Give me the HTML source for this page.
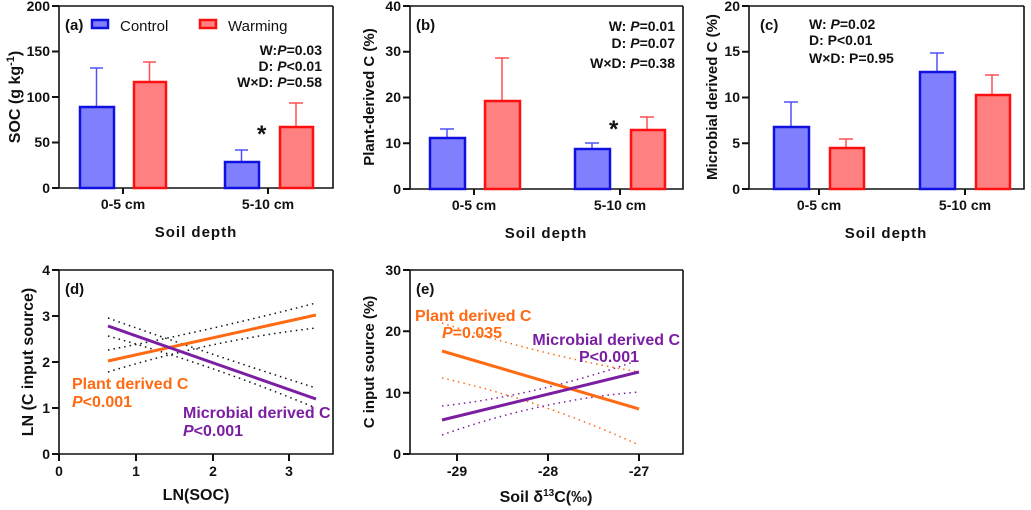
<!DOCTYPE html>
<html><head><meta charset="utf-8"><style>
html,body{margin:0;padding:0;background:#fff}
svg{display:block}
text{font-family:"Liberation Sans",Arial,sans-serif;font-weight:bold;fill:#111}
.t{font-size:14px}
.ti{font-size:15px;letter-spacing:1px}
.yt{font-size:16px}
.an{font-size:14px}
.or{fill:#ff6a13}
.pu{fill:#7b1fa2}
</style></head><body>
<svg width="1031" height="510" viewBox="0 0 1031 510" xmlns="http://www.w3.org/2000/svg">
<g stroke="#111" stroke-width="2" fill="none">
<polyline points="333,6 59,6 59,188 333,188 333,6" stroke-width="1.6"/>
<path d="M52,6H59M52,51.5H59M52,97H59M52,142.5H59M52,188H59M123,188V194M268,188V194"/>
<polyline points="683,6 410,6 410,189 683,189 683,6" stroke-width="1.6"/>
<path d="M403,6H410M403,51.7H410M403,97.5H410M403,143.2H410M403,189H410M474,189V195M620,189V195"/>
<polyline points="1024,6 749,6 749,189 1024,189 1024,6" stroke-width="1.6"/>
<path d="M742,6H749M742,51.7H749M742,97.5H749M742,143.2H749M742,189H749M819,189V195M965,189V195"/>
<polyline points="333,270 59,270 59,454 333,454 333,270" stroke-width="1.6"/>
<path d="M52,270H59M52,316H59M52,362H59M52,408H59M52,454H59M59,454V461M136,454V461M213,454V461M289,454V461"/>
<polyline points="683,270 410,270 410,454 683,454 683,270" stroke-width="1.6"/>
<path d="M403,270H410M403,331.3H410M403,392.7H410M403,454H410M457,454V461M548,454V461M639,454V461"/>
</g>
<g class="t" text-anchor="end">
<text x="50" y="11">200</text><text x="50" y="56">150</text><text x="50" y="102">100</text><text x="50" y="147">50</text><text x="50" y="193">0</text>
<text x="401" y="11">40</text><text x="401" y="56">30</text><text x="401" y="102">20</text><text x="401" y="148">10</text><text x="401" y="194">0</text>
<text x="740" y="11">20</text><text x="740" y="56">15</text><text x="740" y="102">10</text><text x="740" y="148">5</text><text x="740" y="194">0</text>
<text x="50" y="275">4</text><text x="50" y="321">3</text><text x="50" y="367">2</text><text x="50" y="413">1</text><text x="50" y="459">0</text>
<text x="401" y="275">30</text><text x="401" y="336">20</text><text x="401" y="398">10</text><text x="401" y="459">0</text>
</g>
<g class="t" text-anchor="middle">
<text x="123" y="209">0-5 cm</text><text x="268" y="209">5-10 cm</text>
<text x="474" y="210">0-5 cm</text><text x="620" y="210">5-10 cm</text>
<text x="819" y="210">0-5 cm</text><text x="965" y="210">5-10 cm</text>
<text x="59" y="476">0</text><text x="136" y="476">1</text><text x="213" y="476">2</text><text x="289" y="476">3</text>
<text x="457" y="476">-29</text><text x="548" y="476">-28</text><text x="639" y="476">-27</text>
</g>
<g class="ti" text-anchor="middle">
<text x="196" y="237">Soil depth</text><text x="546" y="238">Soil depth</text><text x="886" y="238">Soil depth</text>
</g>
<text class="yt" x="196" y="500" text-anchor="middle">LN(SOC)</text>
<text class="yt" x="546" y="502" text-anchor="middle">Soil δ<tspan dy="-6" font-size="10">13</tspan><tspan dy="6">C(‰)</tspan></text>
<g class="yt" text-anchor="middle">
<text transform="translate(20,97) rotate(-90)">SOC (g kg<tspan dy="-6" font-size="11">-1</tspan><tspan dy="6">)</tspan></text>
<text transform="translate(374,97) rotate(-90)" font-size="15">Plant-derived C (%)</text>
<text transform="translate(717,97) rotate(-90)" font-size="15">Microbial derived C (%)</text>
<text transform="translate(33,362) rotate(-90)">LN (C input source)</text>
<text transform="translate(374,362) rotate(-90)" font-size="15">C input source (%)</text>
</g>
<g stroke-width="1.5">
<path d="M96.5,107V68M90,68H103M241.5,162V150M235,150H248" stroke="#5050ff"/>
<path d="M149.5,82V62M143,62H156M296,127V103M289,103H303" stroke="#ff5050"/>
<path d="M447,138V129M440,129H454M592,149V143M585,143H599" stroke="#5050ff"/>
<path d="M502,101V58M495,58H509M647,130V117M640,117H654" stroke="#ff5050"/>
<path d="M791,127V102M784,102H798M937,72V53M930,53H944" stroke="#5050ff"/>
<path d="M846,148V139M839,139H853M992,95V75M985,75H999" stroke="#ff5050"/>
</g>
<g stroke-width="2.5">
<g fill="#8080ff" stroke="#1010e0">
<rect x="80" y="107" width="34" height="81"/><rect x="225" y="162" width="34" height="26"/>
<rect x="430" y="138" width="35" height="51"/><rect x="575" y="149" width="35" height="40"/>
<rect x="774" y="127" width="35" height="62"/><rect x="920" y="72" width="35" height="117"/>
<rect x="92" y="20" width="16" height="8"/>
</g>
<g fill="#ff8080" stroke="#ff1010">
<rect x="134" y="82" width="32" height="106"/><rect x="280" y="127" width="33" height="61"/>
<rect x="485" y="101" width="35" height="88"/><rect x="631" y="130" width="34" height="59"/>
<rect x="830" y="148" width="34" height="41"/><rect x="976" y="95" width="34" height="94"/>
<rect x="200" y="20" width="16" height="8"/>
</g>
</g>
<g font-size="15">
<text x="65" y="30">(a)</text><text x="120" y="31" style="font-weight:normal">Control</text><text x="228" y="31" style="font-weight:normal">Warming</text>
<text x="416" y="30">(b)</text><text x="760" y="30">(c)</text>
<text x="65" y="294">(d)</text><text x="416" y="294">(e)</text>
</g>
<g font-size="24"><text x="257" y="142">*</text><text x="609" y="137">*</text></g>
<g class="an" text-anchor="end">
<text x="322" y="55">W:<tspan font-style="italic">P</tspan>=0.03</text>
<text x="322" y="71">D: <tspan font-style="italic">P</tspan>&lt;0.01</text>
<text x="322" y="87">W×D:  <tspan font-style="italic">P</tspan>=0.58</text>
<text x="675" y="31">W:  <tspan font-style="italic">P</tspan>=0.01</text>
<text x="675" y="48">D:  <tspan font-style="italic">P</tspan>=0.07</text>
<text x="675" y="68">W×D:  <tspan font-style="italic">P</tspan>=0.38</text>
</g>
<g class="an">
<text x="809" y="29">W: <tspan font-style="italic">P</tspan>=0.02</text>
<text x="809" y="45">D: P&lt;0.01</text>
<text x="809" y="63">W×D: P=0.95</text>
</g>
<g fill="none" stroke="#111" stroke-width="1.5" stroke-dasharray="1.5,4">
<path d="M108,350 Q212,330 316,303"/><path d="M108,372 Q212,340 316,328"/>
<path d="M108,318 Q212,355 316,388"/><path d="M108,336 Q212,365 316,408"/>
</g>
<line x1="108" y1="361" x2="316" y2="315" stroke="#ff6a13" stroke-width="3"/>
<line x1="108" y1="326" x2="316" y2="399" stroke="#7b1fa2" stroke-width="3"/>
<text x="72" y="389" font-size="16" class="or">Plant derived C</text>
<text x="72" y="407" font-size="16" class="or"><tspan font-style="italic" class="or">P</tspan>&lt;0.001</text>
<text x="183" y="418" font-size="16" class="pu">Microbial derived C</text>
<text x="183" y="436" font-size="16" class="pu"><tspan font-style="italic" class="pu">P</tspan>&lt;0.001</text>
<g fill="none" stroke-width="1.5" stroke-dasharray="1.5,4">
<path d="M442,323 Q540,355 639,372" stroke="#ff6a13"/><path d="M442,378 Q540,400 639,445" stroke="#ff6a13"/>
<path d="M442,406 Q540,395 639,360" stroke="#7b1fa2"/><path d="M442,435 Q540,400 639,392" stroke="#7b1fa2"/>
</g>
<line x1="442" y1="351" x2="639" y2="409" stroke="#ff6a13" stroke-width="3"/>
<line x1="442" y1="420" x2="639" y2="372" stroke="#7b1fa2" stroke-width="3"/>
<text x="415" y="321" font-size="16" class="or">Plant derived C</text>
<text x="442" y="338" font-size="16" class="or"><tspan font-style="italic" class="or">P</tspan>=0.035</text>
<text x="680" y="345" font-size="16" text-anchor="end" class="pu">Microbial derived C</text>
<text x="639" y="362" font-size="16" text-anchor="end" class="pu">P&lt;0.001</text>
</svg>
</body></html>
